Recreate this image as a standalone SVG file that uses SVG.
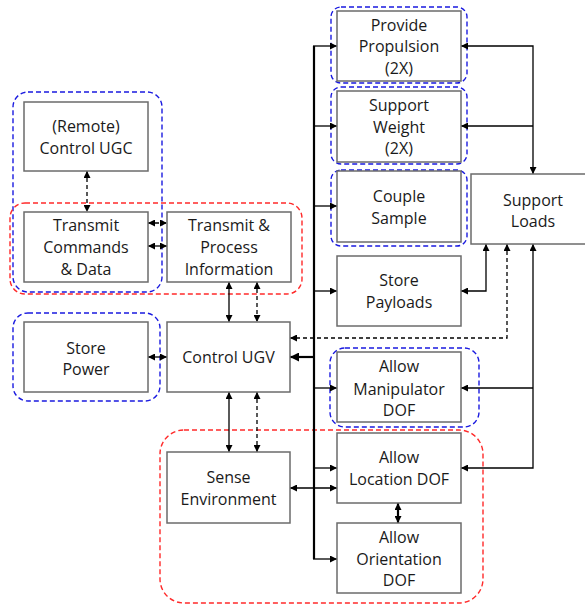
<svg xmlns="http://www.w3.org/2000/svg" width="585" height="607" viewBox="0 0 585 607">
  <style>
    .box { fill: #ffffff; stroke: #6b6b6b; stroke-width: 1.5; }
    .lbl { font-family: "Open Sans", "Liberation Sans", sans-serif; font-size: 16px; fill: #1a1a1a; text-anchor: middle; }
    .ln { fill: none; stroke: #000; stroke-width: 1.3; }
    .thick { stroke-width: 2.2; }
    .dash { stroke-dasharray: 4 3; }
    .grp { fill: none; stroke-width: 1.4; stroke-dasharray: 5 3; }
    .blue { stroke: #1a1ae0; }
    .red { stroke: #ff2a2a; }
  </style>
  <defs>
    <marker id="ah" viewBox="0 0 8 8" refX="8" refY="4" markerWidth="7" markerHeight="7" markerUnits="userSpaceOnUse" orient="auto-start-reverse">
      <path d="M0,0 L8,4 L0,8 z" fill="#000"/>
    </marker>
    <marker id="ahb" viewBox="0 0 8 8" refX="8" refY="4" markerWidth="9" markerHeight="9" markerUnits="userSpaceOnUse" orient="auto-start-reverse">
      <path d="M0,0 L8,4 L0,8 z" fill="#000"/>
    </marker>
  </defs>

  <!-- grouping outlines -->
  <g id="groups">
    <rect class="grp blue" x="13" y="92" width="149" height="200" rx="15"/>
    <rect class="grp red" x="10" y="203" width="292" height="91" rx="15"/>
    <rect class="grp blue" x="13" y="313" width="147" height="88" rx="15"/>
    <rect class="grp blue" x="331" y="7" width="136" height="76" rx="10"/>
    <rect class="grp blue" x="331" y="87" width="136" height="77" rx="10"/>
    <rect class="grp blue" x="331" y="170" width="136" height="76" rx="10"/>
    <rect class="grp blue" x="330" y="348" width="149" height="79" rx="15"/>
    <rect class="grp red" x="160" y="430" width="323" height="173" rx="24"/>
  </g>

  <!-- connectors -->
  <g id="connectors">
    <!-- left cluster -->
    <line class="ln dash" x1="87" y1="171" x2="87" y2="212" marker-start="url(#ah)" marker-end="url(#ah)"/>
    <line class="ln dash" x1="148" y1="223" x2="167" y2="223" marker-start="url(#ah)" marker-end="url(#ah)"/>
    <line class="ln" x1="148" y1="246" x2="167" y2="246" marker-start="url(#ah)" marker-end="url(#ah)"/>
    <line class="ln" x1="229" y1="282" x2="229" y2="322" marker-start="url(#ah)" marker-end="url(#ah)"/>
    <line class="ln dash" x1="257" y1="282" x2="257" y2="322" marker-start="url(#ah)" marker-end="url(#ah)"/>
    <line class="ln" x1="148" y1="357" x2="167" y2="357" marker-start="url(#ah)" marker-end="url(#ah)"/>
    <line class="ln" x1="229" y1="392" x2="229" y2="452" marker-start="url(#ah)" marker-end="url(#ah)"/>
    <line class="ln dash" x1="257" y1="392" x2="257" y2="452" marker-start="url(#ah)" marker-end="url(#ah)"/>

    <!-- main trunk and its branches -->
    <line class="ln thick" x1="314" y1="46" x2="314" y2="559"/>
    <line class="ln thick" x1="314" y1="357" x2="290" y2="357" marker-end="url(#ahb)"/>
    <line class="ln" x1="313" y1="46" x2="337" y2="46" marker-end="url(#ah)"/>
    <line class="ln" x1="314" y1="126" x2="337" y2="126" marker-end="url(#ah)"/>
    <line class="ln" x1="314" y1="206" x2="337" y2="206" marker-end="url(#ah)"/>
    <line class="ln" x1="314" y1="291" x2="337" y2="291" marker-end="url(#ah)"/>
    <line class="ln" x1="314" y1="388" x2="337" y2="388" marker-end="url(#ah)"/>
    <line class="ln" x1="314" y1="468" x2="337" y2="468" marker-end="url(#ah)"/>
    <line class="ln" x1="313" y1="559" x2="337" y2="559" marker-end="url(#ah)"/>

    <!-- sense environment / location / orientation -->
    <line class="ln" x1="290" y1="488" x2="337" y2="488" marker-start="url(#ah)" marker-end="url(#ah)"/>
    <line class="ln thick" x1="398" y1="503" x2="398" y2="523" marker-start="url(#ah)" marker-end="url(#ah)"/>

    <!-- support loads links -->
    <path class="ln" d="M461,46 H533 V174" marker-start="url(#ah)" marker-end="url(#ah)"/>
    <line class="ln" x1="533" y1="126" x2="461" y2="126" marker-end="url(#ah)"/>
    <path class="ln" d="M486,244 V291 H461" marker-start="url(#ah)" marker-end="url(#ah)"/>
    <path class="ln" d="M533,244 V468 H461" marker-start="url(#ah)" marker-end="url(#ah)"/>
    <line class="ln" x1="533" y1="388" x2="461" y2="388" marker-end="url(#ah)"/>
    <path class="ln dash" d="M507,244 V338 H290" marker-start="url(#ah)" marker-end="url(#ah)"/>
  </g>

  <!-- function blocks -->
  <g id="remote-control-ugc">
    <rect class="box" x="24" y="102" width="124" height="69"/>
    <text class="lbl" x="86" y="132">(Remote)</text>
    <text class="lbl" x="86" y="154">Control UGC</text>
  </g>
  <g id="transmit-commands">
    <rect class="box" x="24" y="212" width="124" height="70"/>
    <text class="lbl" x="86" y="231">Transmit</text>
    <text class="lbl" x="86" y="253">Commands</text>
    <text class="lbl" x="86" y="275">&amp; Data</text>
  </g>
  <g id="transmit-process">
    <rect class="box" x="167" y="212" width="124" height="70"/>
    <text class="lbl" x="229" y="231">Transmit &amp;</text>
    <text class="lbl" x="229" y="253">Process</text>
    <text class="lbl" x="229" y="275">Information</text>
  </g>
  <g id="store-power">
    <rect class="box" x="24" y="322" width="124" height="70"/>
    <text class="lbl" x="86" y="353.5">Store</text>
    <text class="lbl" x="86" y="375">Power</text>
  </g>
  <g id="control-ugv">
    <rect class="box" x="167" y="322" width="123" height="70"/>
    <text class="lbl" x="228.5" y="362.5">Control UGV</text>
  </g>
  <g id="sense-environment">
    <rect class="box" x="167" y="452" width="123" height="71"/>
    <text class="lbl" x="228.5" y="482.5">Sense</text>
    <text class="lbl" x="228.5" y="505">Environment</text>
  </g>
  <g id="provide-propulsion">
    <rect class="box" x="337" y="11" width="124" height="70"/>
    <text class="lbl" x="399" y="30.5">Provide</text>
    <text class="lbl" x="399" y="52">Propulsion</text>
    <text class="lbl" x="399" y="73.5">(2X)</text>
  </g>
  <g id="support-weight">
    <rect class="box" x="337" y="91" width="124" height="71"/>
    <text class="lbl" x="399" y="111">Support</text>
    <text class="lbl" x="399" y="132.5">Weight</text>
    <text class="lbl" x="399" y="154">(2X)</text>
  </g>
  <g id="couple-sample">
    <rect class="box" x="337" y="171" width="124" height="71"/>
    <text class="lbl" x="399" y="202">Couple</text>
    <text class="lbl" x="399" y="224">Sample</text>
  </g>
  <g id="store-payloads">
    <rect class="box" x="337" y="256" width="124" height="70"/>
    <text class="lbl" x="399" y="286">Store</text>
    <text class="lbl" x="399" y="307.5">Payloads</text>
  </g>
  <g id="support-loads">
    <rect class="box" x="471" y="174" width="124" height="70"/>
    <text class="lbl" x="533" y="205.5">Support</text>
    <text class="lbl" x="533" y="226.5">Loads</text>
  </g>
  <g id="allow-manipulator-dof">
    <rect class="box" x="337" y="352" width="124" height="70"/>
    <text class="lbl" x="399" y="372">Allow</text>
    <text class="lbl" x="399" y="394.5">Manipulator</text>
    <text class="lbl" x="399" y="416">DOF</text>
  </g>
  <g id="allow-location-dof">
    <rect class="box" x="337" y="433" width="124" height="70"/>
    <text class="lbl" x="399" y="463">Allow</text>
    <text class="lbl" x="399" y="485">Location DOF</text>
  </g>
  <g id="allow-orientation-dof">
    <rect class="box" x="337" y="523" width="124" height="70"/>
    <text class="lbl" x="399" y="543">Allow</text>
    <text class="lbl" x="399" y="564.5">Orientation</text>
    <text class="lbl" x="399" y="586">DOF</text>
  </g>
</svg>
